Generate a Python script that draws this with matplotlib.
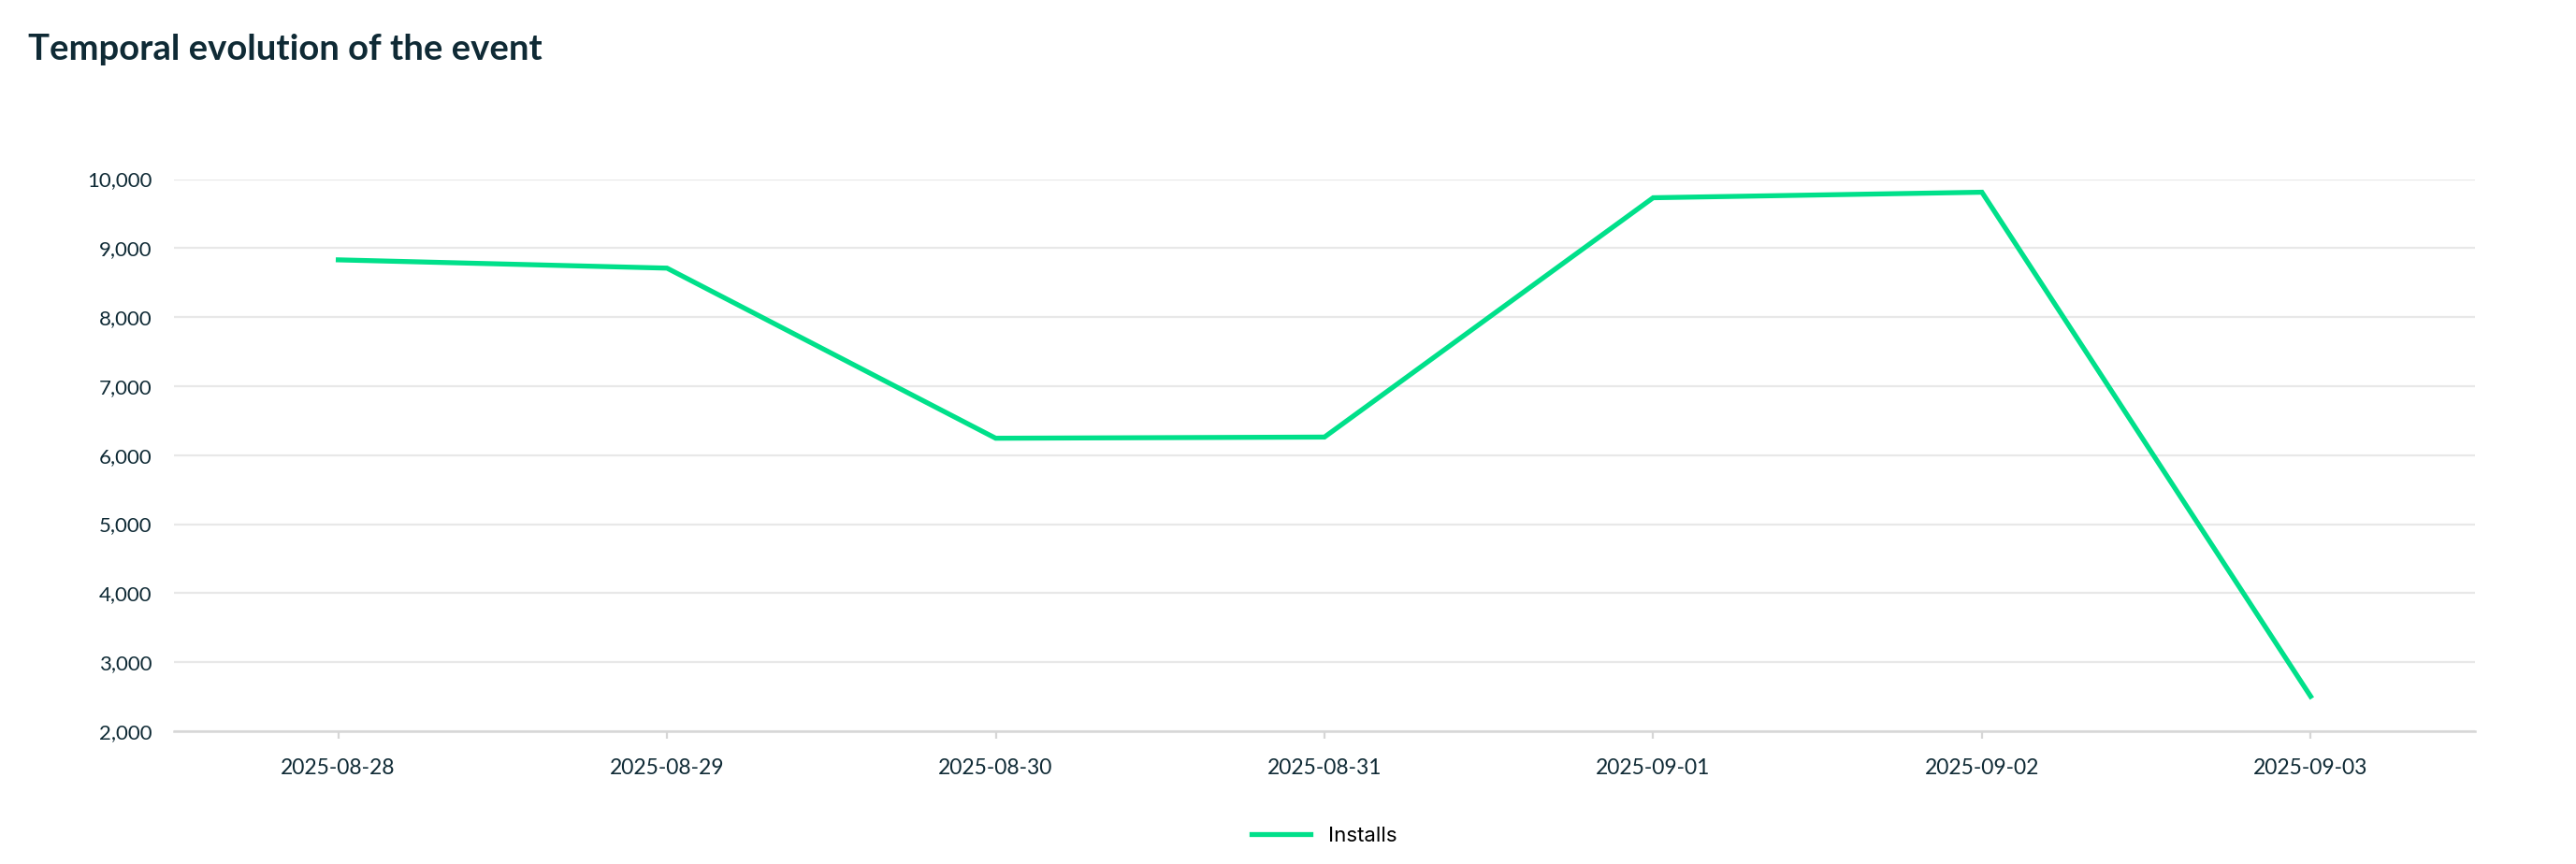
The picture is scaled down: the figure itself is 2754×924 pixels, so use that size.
import matplotlib
matplotlib.use('Agg')
import matplotlib.pyplot as plt
from matplotlib.ticker import FuncFormatter

# ── Data ──────────────────────────────────────────────────────────────
dates = ['2025-08-28', '2025-08-29', '2025-08-30', '2025-08-31',
         '2025-09-01', '2025-09-02', '2025-09-03']
installs = [8830, 8710, 6245, 6262, 9730, 9810, 2505]
y_ticks = [2000, 3000, 4000, 5000, 6000, 7000, 8000, 9000, 10000]

GREEN = '#00e08a'
INK = '#0f2a35'
GRID = '#e8e8e8'

fig = plt.figure(figsize=(27.54, 9.24), dpi=100)
ax = fig.add_axes([0.0675, 0.1537, 0.8933, 0.639])

x = list(range(len(dates)))
ax.plot(x, installs, color=GREEN, linewidth=3.8, label='Installs',
        solid_joinstyle='miter', clip_on=False, zorder=3)

ax.set_xlim(-0.5, len(dates) - 0.5)
ax.set_ylim(y_ticks[0], y_ticks[-1])
ax.set_yticks(y_ticks)
ax.yaxis.set_major_formatter(FuncFormatter(lambda v, _: f'{v:,.0f}'))
ax.set_xticks(x)
ax.set_xticklabels(dates)

ax.grid(True, axis='y', color=GRID, linewidth=1.6)
ax.set_axisbelow(True)
for side in ('top', 'right', 'left'):
    ax.spines[side].set_visible(False)
ax.spines['bottom'].set_color('#d6d6d6')
ax.spines['bottom'].set_linewidth(1.8)

ax.tick_params(axis='y', length=0, pad=17, labelsize=16, labelcolor=INK)
ax.tick_params(axis='x', length=6, width=1.6, color='#d6d6d6', pad=15,
               labelsize=16.5, labelcolor=INK)
for lbl in ax.get_xticklabels() + ax.get_yticklabels():
    lbl.set_fontfamily('Lato')

fig.text(30 / 2754, 1 - 53 / 924, 'Temporal evolution of the event',
         fontsize=27.5, fontweight='bold', family='Lato', color=INK,
         ha='left', va='center')

ax.legend(loc='center', bbox_to_anchor=(0.5, -0.19), frameon=False,
          handlelength=2.85, handletextpad=0.87,
          prop={'family': 'Inter', 'size': 16})

fig.savefig('out.png', dpi=100)
